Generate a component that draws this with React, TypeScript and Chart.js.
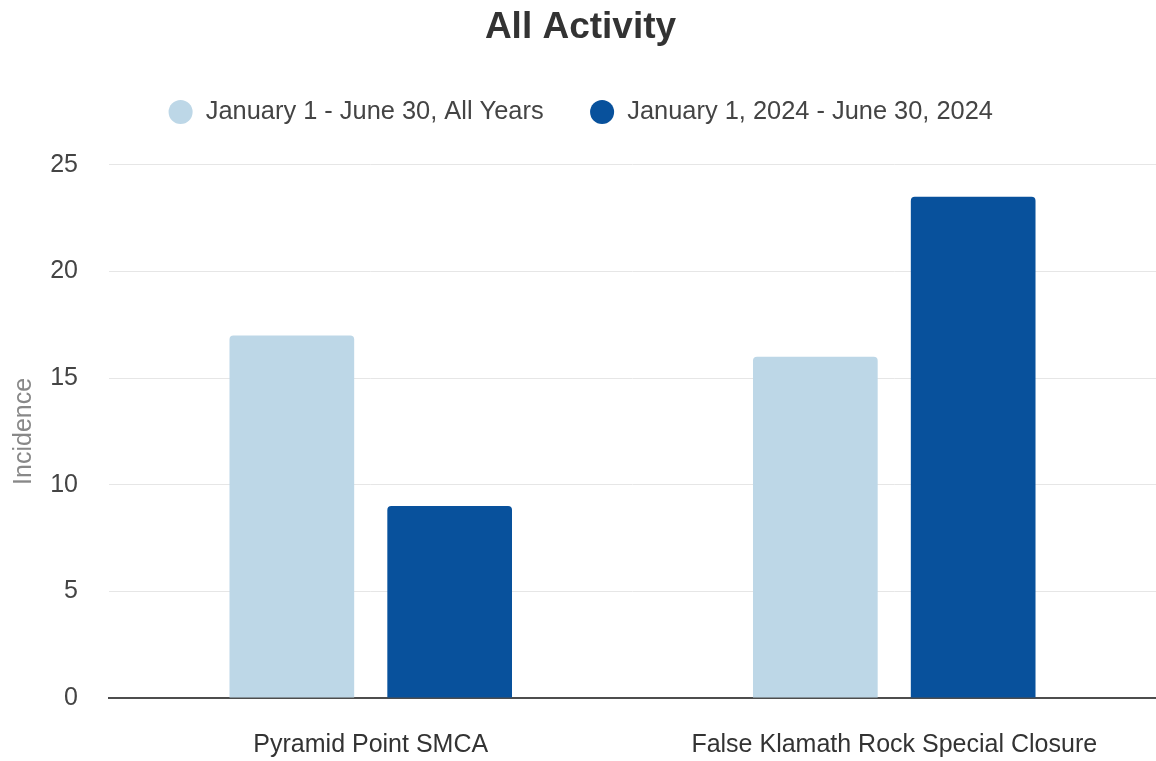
import React, { useEffect, useRef } from "react";
import { Chart, registerables } from "chart.js";

Chart.register(...registerables);

const categories = ["Pyramid Point SMCA", "False Klamath Rock Special Closure"];
const seriesNames = ["January 1 - June 30, All Years", "January 1, 2024 - June 30, 2024"];
const allYearsValues = [17, 16];
const year2024Values = [9, 23.5];
const seriesColors = ["#bdd7e7", "#08519c"];
const yTitle = "Incidence";
const chartTitle = "All Activity";

const legendSpacer = {
  id: "legendSpacer",
  beforeUpdate(chart: any) {
    const legend = chart.legend;
    if (legend && !legend._spacerPatched) {
      const fit = legend.fit;
      legend.fit = function () {
        fit.call(this);
        this.height += 30;
      };
      legend._spacerPatched = true;
    }
  },
};

export default function App() {
  const ref = useRef<HTMLCanvasElement | null>(null);
  useEffect(() => {
    if (!ref.current) return;
    const font = "'Liberation Sans', Arial, sans-serif";
    const chart = new Chart(ref.current, {
      type: "bar",
      data: {
        labels: categories,
        datasets: [
          {
            label: seriesNames[0],
            data: allYearsValues,
            backgroundColor: seriesColors[0],
            borderRadius: 4,
            borderSkipped: "bottom",
          },
          {
            label: seriesNames[1],
            data: year2024Values,
            backgroundColor: seriesColors[1],
            borderRadius: 4,
            borderSkipped: "bottom",
          },
        ],
      },
      plugins: [legendSpacer],
      options: {
        animation: false,
        responsive: false,
        maintainAspectRatio: false,
        datasets: { bar: { categoryPercentage: 0.603, barPercentage: 0.79 } },
        layout: { padding: { left: 0, right: -5, top: 0, bottom: 1 } },
        plugins: {
          title: {
            display: true,
            text: chartTitle,
            color: "#333333",
            font: { family: font, size: 37, weight: "bold" },
            padding: { top: 6, bottom: 3 },
          },
          legend: {
            display: true,
            position: "top",
            labels: {
              usePointStyle: true,
              pointStyle: "circle",
              boxWidth: 25,
              boxHeight: 17,
              padding: 46,
              color: "#444444",
              font: { family: font, size: 25.4 },
            },
          },
          tooltip: { enabled: false },
        },
        scales: {
          x: {
            grid: { display: false },
            border: { display: true, color: "#4d4d4d", width: 2 },
            ticks: {
              color: "#333333",
              padding: 24.5,
              font: { family: font, size: 25 },
            },
            afterFit: (scale: any) => {
              scale.height = 62;
            },
          },
          y: {
            min: 0,
            max: 25,
            ticks: {
              stepSize: 5,
              color: "#444444",
              padding: 31,
              font: { family: font, size: 25 },
            },
            grid: { color: "#e6e6e6", lineWidth: 1, drawTicks: false },
            border: { display: false },
            title: {
              display: true,
              text: yTitle,
              color: "#888888",
              font: { family: font, size: 25 },
              padding: { top: 9, bottom: 0 },
            },
            afterFit: (scale: any) => {
              scale.width = 109;
            },
          },
        },
      },
    });
    return () => chart.destroy();
  }, []);
  return (
    <div style={{ position: "fixed", left: 0, top: 0, width: 1156, height: 761, background: "#fff" }}>
      <canvas ref={ref} width={1156} height={761} style={{ width: 1156, height: 761 }} />
    </div>
  );
}
